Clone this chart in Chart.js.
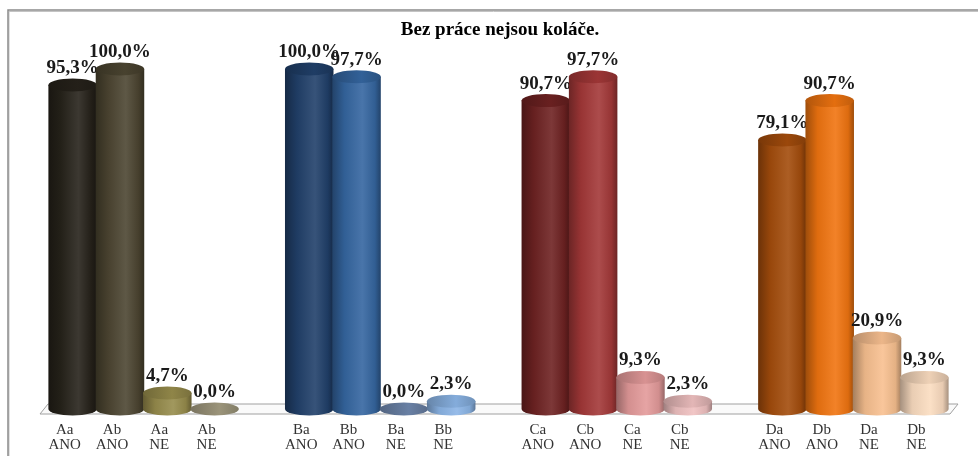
<!DOCTYPE html>
<html>
<head>
<meta charset="utf-8">
<script src="https://cdn.jsdelivr.net/npm/chart.js@4.4.1/dist/chart.umd.min.js"></script>
<style>
  html, body { margin: 0; padding: 0; background: #ffffff; }
  #wrap { position: relative; width: 978px; height: 456px; }
  canvas { display: block; }
</style>
</head>
<body>
<div id="wrap"><canvas id="chart" width="978" height="456"></canvas></div>
<script>
// Survey answers (ANO / NE) for classes Aa, Ab, Ba, Bb, Ca, Cb, Da, Db
const chartTitle = 'Bez práce nejsou koláče.';

const categories = [
  ['Aa', 'ANO'], ['Ab', 'ANO'], ['Aa', 'NE'], ['Ab', 'NE'],
  ['Ba', 'ANO'], ['Bb', 'ANO'], ['Ba', 'NE'], ['Bb', 'NE'],
  ['Ca', 'ANO'], ['Cb', 'ANO'], ['Ca', 'NE'], ['Cb', 'NE'],
  ['Da', 'ANO'], ['Db', 'ANO'], ['Da', 'NE'], ['Db', 'NE']
];

const values = [
  95.3, 100.0, 4.7, 0.0,
  100.0, 97.7, 0.0, 2.3,
  90.7, 97.7, 9.3, 2.3,
  79.1, 90.7, 20.9, 9.3
];

const barColors = [
  '#26221a', '#4c4531', '#978c4c', '#a39c80',
  '#21406a', '#3566a0', '#6f87ad', '#8bb5e6',
  '#6e2222', '#a33838', '#e39a9a', '#efc0c0',
  '#a34c0c', '#f07410', '#f8c090', '#fbdcc0'
];

const groupSize = 4;

// Insert an empty slot between the groups of four bars
const labels = [];
const data = [];
const colors = [];
categories.forEach((c, i) => {
  if (i > 0 && i % groupSize === 0) {
    labels.push('');
    data.push(null);
    colors.push('rgba(0,0,0,0)');
  }
  labels.push(c);
  data.push(values[i]);
  colors.push(barColors[i]);
});

function shade(hex, f) {
  const n = parseInt(hex.slice(1), 16);
  let r = (n >> 16) & 255, g = (n >> 8) & 255, b = n & 255;
  if (f < 1) {
    r *= f; g *= f; b *= f;
  } else {
    const t = f - 1;
    r += (255 - r) * t; g += (255 - g) * t; b += (255 - b) * t;
  }
  return 'rgb(' + Math.round(r) + ',' + Math.round(g) + ',' + Math.round(b) + ')';
}

const SERIF = '"Liberation Serif", "Times New Roman", serif';
const DEPTH_X = 8;   // sideways shift of the bars on the 3D floor
const RY = 6.5;      // vertical radius of the cylinder ellipses

// Outer frame, title and 3D floor
const backdrop = {
  id: 'backdrop',
  beforeDraw(chart) {
    const ctx = chart.ctx;
    ctx.save();
    ctx.fillStyle = '#ffffff';
    ctx.fillRect(0, 0, chart.width, chart.height);
    ctx.strokeStyle = '#c4c4c4';
    ctx.lineWidth = 1;
    ctx.beginPath();
    ctx.moveTo(9, chart.height);
    ctx.lineTo(9, 11.5);
    ctx.lineTo(chart.width, 11.5);
    ctx.stroke();
    ctx.strokeStyle = '#8a8a8a';
    ctx.lineWidth = 1.5;
    ctx.beginPath();
    ctx.moveTo(8, chart.height);
    ctx.lineTo(8, 10);
    ctx.lineTo(chart.width, 10);
    ctx.stroke();

    ctx.font = 'bold 19px ' + SERIF;
    ctx.fillStyle = '#000000';
    ctx.textAlign = 'center';
    ctx.textBaseline = 'middle';
    ctx.fillText(chartTitle, 500, 30);
    ctx.restore();
  },
  beforeDatasetsDraw(chart) {
    const ctx = chart.ctx;
    const area = chart.chartArea;
    const y0 = chart.scales.y.getPixelForValue(0);
    const xl = area.left - 1, xr = area.right + 10;
    ctx.save();
    ctx.beginPath();
    ctx.moveTo(xl, y0 + 5);
    ctx.lineTo(xr, y0 + 5);
    ctx.lineTo(xr + DEPTH_X, y0 - 5);
    ctx.lineTo(xl + DEPTH_X, y0 - 5);
    ctx.closePath();
    ctx.fillStyle = '#fafafa';
    ctx.fill();
    ctx.strokeStyle = '#a0a0a0';
    ctx.lineWidth = 1;
    ctx.stroke();
    ctx.restore();
  }
};

// Cylinders and their value labels, placed from the bar elements
const cylinders = {
  id: 'cylinders',
  afterDatasetsDraw(chart) {
    const ctx = chart.ctx;
    const meta = chart.getDatasetMeta(0);
    const ds = chart.data.datasets[0];
    ctx.save();
    meta.data.forEach((el, i) => {
      const v = ds.data[i];
      if (v === null || v === undefined) return;
      const col = ds.cylinderColors[i];
      const cx = el.x + DEPTH_X;
      const rx = el.width / 2 + 0.6;
      const top = el.y;
      const base = el.base;
      const left = cx - rx, right = cx + rx;

      if (base - top > 0.5) {
        const g = ctx.createLinearGradient(left, 0, right, 0);
        g.addColorStop(0, shade(col, 0.66));
        g.addColorStop(0.25, shade(col, 0.93));
        g.addColorStop(0.62, shade(col, 1.1));
        g.addColorStop(0.88, shade(col, 0.92));
        g.addColorStop(1, shade(col, 0.66));
        ctx.beginPath();
        ctx.moveTo(left, top);
        ctx.lineTo(left, base);
        ctx.ellipse(cx, base, rx, RY, 0, Math.PI, 0, true);
        ctx.lineTo(right, top);
        ctx.closePath();
        ctx.fillStyle = g;
        ctx.fill();
      }
      const gt = ctx.createLinearGradient(left, 0, right, 0);
      gt.addColorStop(0, shade(col, 0.74));
      gt.addColorStop(0.6, shade(col, 0.95));
      gt.addColorStop(1, shade(col, 0.8));
      ctx.beginPath();
      ctx.ellipse(cx, top, rx, RY, 0, 0, Math.PI * 2);
      ctx.fillStyle = gt;
      ctx.fill();

      ctx.font = 'bold 19px ' + SERIF;
      ctx.fillStyle = '#1a1a1a';
      ctx.textAlign = 'center';
      ctx.textBaseline = 'middle';
      ctx.fillText(v.toFixed(1).replace('.', ',') + '%', cx, top - 17);
    });
    ctx.restore();
  }
};

new Chart(document.getElementById('chart'), {
  type: 'bar',
  data: {
    labels: labels,
    datasets: [{
      data: data,
      cylinderColors: colors,
      backgroundColor: 'rgba(0,0,0,0)',
      borderWidth: 0,
      barPercentage: 1.0,
      categoryPercentage: 1.0
    }]
  },
  options: {
    responsive: false,
    animation: false,
    devicePixelRatio: 1,
    layout: { padding: { left: 41, right: 38, top: 69, bottom: 0 } },
    plugins: {
      legend: { display: false },
      tooltip: { enabled: false },
      title: { display: false }
    },
    scales: {
      x: {
        grid: { display: false, drawTicks: false },
        border: { display: false },
        ticks: {
          color: '#333333',
          autoSkip: false,
          maxRotation: 0,
          padding: 14,
          font: { family: SERIF, size: 15, lineHeight: 1.0 }
        },
        afterFit(scale) { scale.height = 47; }
      },
      y: {
        display: false,
        min: 0,
        max: 100
      }
    }
  },
  plugins: [backdrop, cylinders]
});
</script>
</body>
</html>
